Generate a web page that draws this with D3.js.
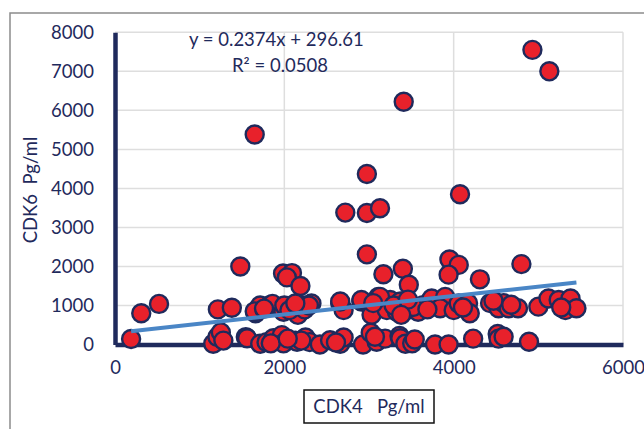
<!DOCTYPE html>
<html><head><meta charset="utf-8">
<script src="https://cdn.jsdelivr.net/npm/d3@7"></script>
<style>body{margin:0;background:#fff}svg{display:block}text{font-family:Lato,"Open Sans",sans-serif}</style>
</head><body>
<svg id="c" width="644" height="429"></svg>
<script>
// CDK4 (x) values, Pg/ml
const cdk4 = [4930,5130,3410,1650,2975,4075,2720,2975,3130,2975,1480,4800,3950,4060,3940,3400,3170,3470,4310,1985,2090,2030,2190,
 310,520,190,1215,1380,
 1660,1715,1830,1860,1650,1990,2000,2100,2160,2210,2240,2320,2290,2660,2700,2910,3030,3030,3110,3250,3370,3210,3330,3450,3580,3640,3740,3900,3840,4000,4060,4170,4190,4430,4530,4590,4650,4760,5000,5120,5240,5380,5320,5450,2660,2910,3130,
 2060,2130,1760,3290,3520,3690,3460,4110,4470,4680,5270,3050,3380,
 1160,1210,1250,1280,1545,1560,1715,1790,1870,1970,1990,2130,2150,2250,2300,2420,2540,2660,2700,2930,3020,3090,3190,3070,3360,3370,3430,3510,3780,3940,4230,4520,4530,4590,4890,
 2200,2610,3540,1840,2040];
// CDK6 (y) values, Pg/ml
const cdk6 = [7550,7000,6220,5380,4370,3850,3380,3370,3490,2310,2000,2060,2180,2040,1790,1940,1800,1530,1670,1820,1830,1720,1500,
 800,1040,140,900,940,
 800,1000,1010,1040,850,840,1000,930,760,1010,900,1050,1000,1060,880,1100,930,760,1220,1140,1100,880,840,880,840,1010,1180,1220,930,880,1050,1060,800,1060,930,1060,930,930,970,1180,1140,1180,880,930,1100,1140,1220,
 880,1050,920,1000,960,900,1150,950,1120,1020,950,1060,760,
 20,190,310,100,190,160,20,60,160,240,30,100,70,180,60,0,110,20,180,0,300,70,150,200,220,160,20,30,0,0,150,270,150,200,70,
 100,50,130,30,150];
const xTicks = [0,2000,4000,6000];
const yTicks = [0,1000,2000,3000,4000,5000,6000,7000,8000];
const slope = 0.2374, intercept = 296.61;
const trendRange = [190, 5450];
const eqLabel = "y = 0.2374x + 296.61";
const r2Label = "R² = 0.0508";
const xTitle = "CDK4   Pg/ml";
const yTitle = "CDK6  Pg/ml";

const navy = "#1f2a5c";
const svg = d3.select("#c");
const x = d3.scaleLinear().domain([0,6000]).range([115,623]);
const y = d3.scaleLinear().domain([0,8000]).range([344.5,32.3]);

// outer chart border
svg.append("rect").attr("x",10).attr("y",13).attr("width",700).attr("height",500)
  .attr("fill","none").attr("stroke","#8c8c8c").attr("stroke-width",1.5);

// gridlines
svg.append("g").selectAll("line").data(yTicks.filter(d=>d>0)).join("line")
  .attr("x1",x(0)).attr("x2",x(6000)).attr("y1",d=>y(d)).attr("y2",d=>y(d))
  .attr("stroke","#dedede").attr("stroke-width",1.5);
svg.append("g").selectAll("line").data(xTicks.filter(d=>d>0)).join("line")
  .attr("x1",d=>x(d)).attr("x2",d=>x(d)).attr("y1",y(0)).attr("y2",y(8000))
  .attr("stroke","#dedede").attr("stroke-width",1.5);

// axes
const xa = svg.append("g").attr("transform",`translate(0,${y(0)})`)
  .call(d3.axisBottom(x).tickValues(xTicks).tickSize(0).tickPadding(16).tickFormat(d3.format("d")));
xa.select(".domain").attr("stroke",navy).attr("stroke-width",4.5);
xa.selectAll("text").attr("fill",navy).attr("font-size",18.5);
const ya = svg.append("g").attr("transform",`translate(${x(0)},0)`)
  .call(d3.axisLeft(y).tickValues(yTicks).tickSize(0).tickPadding(21).tickFormat(d3.format("d")));
ya.select(".domain").attr("stroke",navy).attr("stroke-width",4.5);
ya.selectAll("text").attr("fill",navy).attr("font-size",18.5);

// points
const pts = cdk4.map((v,i)=>[v,cdk6[i]]);
svg.append("g").selectAll("circle").data(pts).join("circle")
  .attr("cx",d=>x(d[0])).attr("cy",d=>y(d[1])).attr("r",9)
  .attr("fill","#e8212b").attr("stroke",navy).attr("stroke-width",2.4);

// trend line
svg.append("line")
  .attr("x1",x(trendRange[0])).attr("y1",y(slope*trendRange[0]+intercept))
  .attr("x2",x(trendRange[1])).attr("y2",y(slope*trendRange[1]+intercept))
  .attr("stroke","#4a86c6").attr("stroke-width",4);

// equation
svg.append("text").attr("x",189).attr("y",46).attr("fill",navy).attr("font-size",18.5).text(eqLabel);
svg.append("text").attr("x",232).attr("y",72).attr("fill",navy).attr("font-size",18.5).text(r2Label);

// axis titles
svg.append("rect").attr("x",304).attr("y",390).attr("width",130).attr("height",33)
  .attr("fill","#fff").attr("stroke","#111").attr("stroke-width",1.5);
svg.append("text").attr("x",369).attr("y",413).attr("text-anchor","middle").attr("fill",navy)
  .attr("font-size",18.5).style("white-space","pre").text(xTitle);
svg.append("text").attr("transform","translate(37,190) rotate(-90)").attr("text-anchor","middle")
  .attr("fill",navy).attr("font-size",18.5).style("white-space","pre").text(yTitle);
</script>
</body></html>
